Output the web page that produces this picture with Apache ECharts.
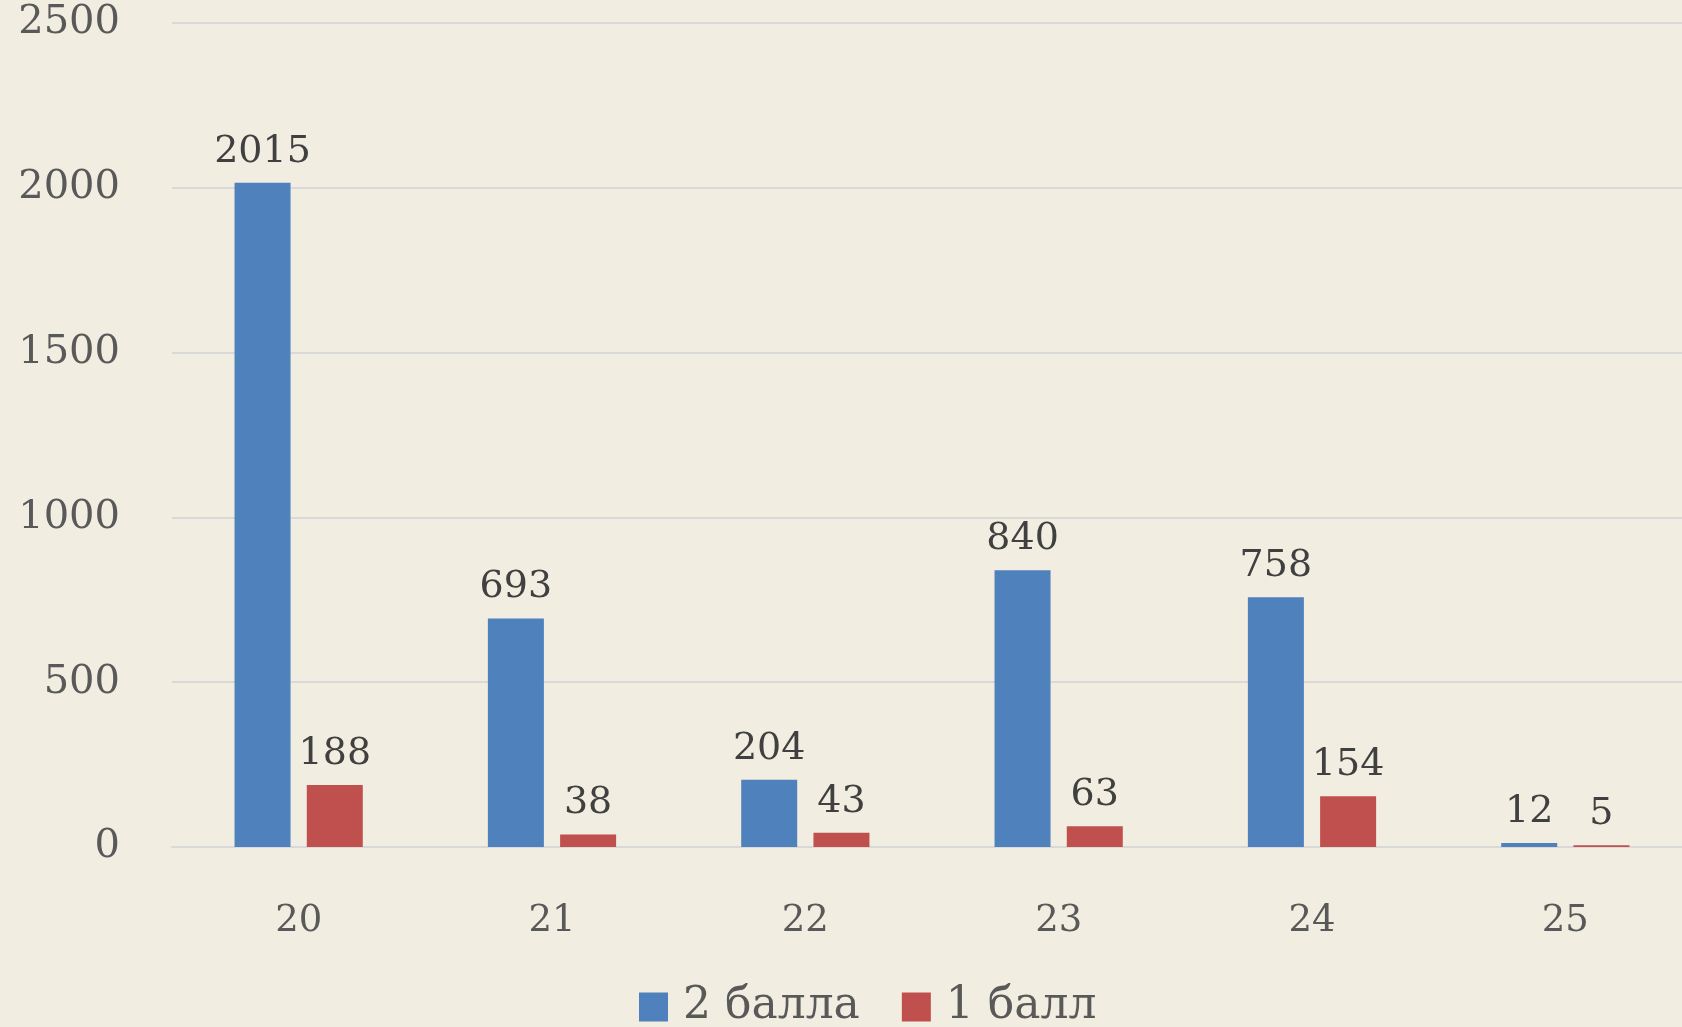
<!DOCTYPE html>
<html>
<head>
<meta charset="utf-8">
<script src="https://cdn.jsdelivr.net/npm/echarts@6/dist/echarts.min.js"></script>
<style>
  html, body { margin: 0; padding: 0; background: #f1ede0; overflow: hidden; }
  #main { width: 1710px; height: 1027px; }
</style>
</head>
<body>
<div id="main"></div>
<script>
// categories and series
const categories = ['20', '21', '22', '23', '24', '25'];
const twoPoints = [2015, 693, 204, 840, 758, 12];
const onePoint = [188, 38, 43, 63, 154, 5];
const seriesNames = ['2 балла', '1 балл'];

const font = "'DejaVu Serif', 'Liberation Serif', serif";

const chart = echarts.init(document.getElementById('main'));

// plot area runs slightly past the right edge of the window, like the original
const option = {
  backgroundColor: '#f1ede0',
  animation: false,
  textStyle: { fontFamily: font },
  grid: {
    left: 172,
    right: 18,
    top: 23,
    bottom: 180,
    containLabel: false
  },
  legend: {
    left: 634,
    bottom: -7,
    itemWidth: 29,
    itemHeight: 29,
    itemGap: 42,
    icon: 'rect',
    textStyle: { fontSize: 44, color: '#595959', fontFamily: font, padding: [0, 0, 0, 10] },
    data: seriesNames
  },
  xAxis: {
    type: 'category',
    data: categories,
    axisLine: { lineStyle: { color: '#d9d9d9', width: 2 } },
    axisTick: { show: false },
    axisLabel: { fontSize: 37, color: '#595959', margin: 56, fontFamily: font }
  },
  yAxis: {
    type: 'value',
    min: 0,
    max: 2500,
    interval: 500,
    axisLine: { show: false },
    axisTick: { show: false },
    splitLine: { lineStyle: { color: '#d9d9d9', width: 2 } },
    axisLabel: {
      fontSize: 40, color: '#595959', margin: 52, fontFamily: font,
      formatter: function (v) { return String(v); }
    }
  },
  series: [
    {
      name: seriesNames[0],
      type: 'bar',
      data: twoPoints,
      barWidth: 56,
      barGap: '29%',
      itemStyle: { color: '#4f81bd' },
      label: { show: true, position: 'top', distance: 12, fontSize: 38, color: '#404040', fontFamily: font }
    },
    {
      name: seriesNames[1],
      type: 'bar',
      data: onePoint,
      barWidth: 56,
      itemStyle: { color: '#c0504d' },
      label: { show: true, position: 'top', distance: 12, fontSize: 38, color: '#404040', fontFamily: font }
    }
  ]
};

chart.setOption(option);
window.addEventListener('resize', function () { chart.resize(); });
</script>
</body>
</html>
